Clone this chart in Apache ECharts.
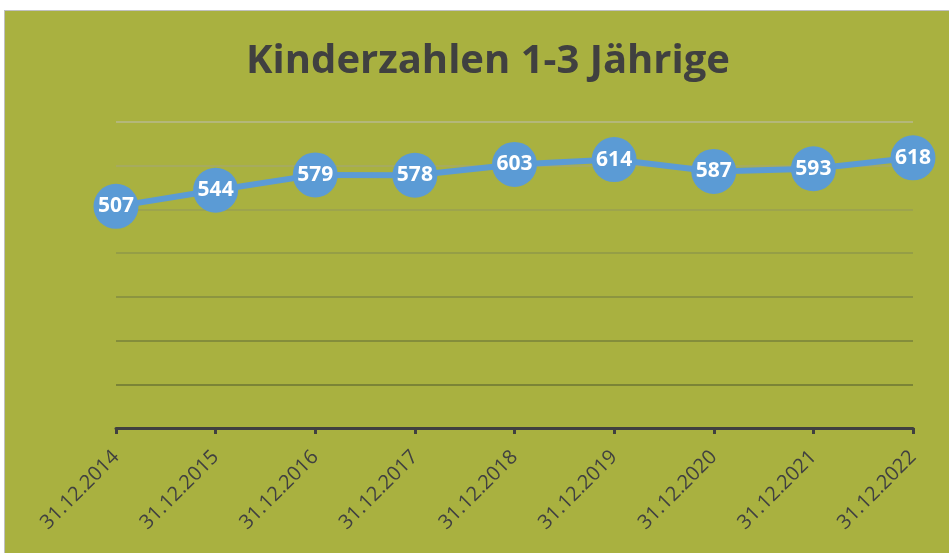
<!DOCTYPE html>
<html>
<head>
<meta charset="utf-8">
<script src="https://cdn.jsdelivr.net/npm/echarts@6/dist/echarts.min.js"></script>
<style>
  html, body { margin: 0; padding: 0; background: #fff; }
  #chart {
    position: absolute; left: 4px; top: 10px;
    width: 944px; height: 542px;
    border-left: 1px solid #c0c0c0; border-top: 1px solid #c0c0c0;
    background: #a9b140;
  }
</style>
</head>
<body>
<div id="chart"></div>
<script>
// Stichtage und Kinderzahlen
var dates = ['31.12.2014', '31.12.2015', '31.12.2016', '31.12.2017', '31.12.2018',
             '31.12.2019', '31.12.2020', '31.12.2021', '31.12.2022'];
var kinder = [507, 544, 579, 578, 603, 614, 587, 593, 618];

var chart = echarts.init(document.getElementById('chart'));

chart.setOption({
    backgroundColor: '#a9b140',
    animation: false,
    title: {
        text: 'Kinderzahlen 1-3 Jährige',
        left: 478,
        textAlign: 'center',
        top: 26,
        textStyle: {
            fontFamily: 'Open Sans',
            fontWeight: 'bold',
            fontSize: 40,
            color: '#404040'
        }
    },
    grid: { left: 111, right: 36, top: 111, bottom: 125 },
    xAxis: {
        type: 'category',
        data: dates,
        boundaryGap: false,
        axisLine: { lineStyle: { color: '#404040', width: 3 } },
        axisTick: { show: true, length: 6, lineStyle: { color: '#404040', width: 3 } },
        axisLabel: {
            rotate: 45,
            margin: 26,
            fontFamily: 'Open Sans',
            fontSize: 20,
            color: '#404040'
        }
    },
    yAxis: {
        type: 'value',
        min: 0,
        max: 700,
        interval: 100,
        axisLine: { show: false },
        axisTick: { show: false },
        axisLabel: { show: false },
        splitLine: {
            lineStyle: {
                width: 1.5,
                color: ['#404040', '#6d7633', '#78823a', '#838c40', '#8f9848', '#9aa152', '#a6aa68', '#b8ba8e']
            }
        }
    },
    series: [{
        type: 'line',
        data: kinder,
        symbol: 'circle',
        symbolSize: 45,
        lineStyle: { color: '#5b9bd5', width: 6 },
        itemStyle: { color: '#5b9bd5' },
        label: {
            show: true,
            position: 'inside',
            fontFamily: 'Open Sans',
            fontWeight: 'bold',
            fontSize: 21,
            color: '#ffffff'
        }
    }]
});
</script>
</body>
</html>
